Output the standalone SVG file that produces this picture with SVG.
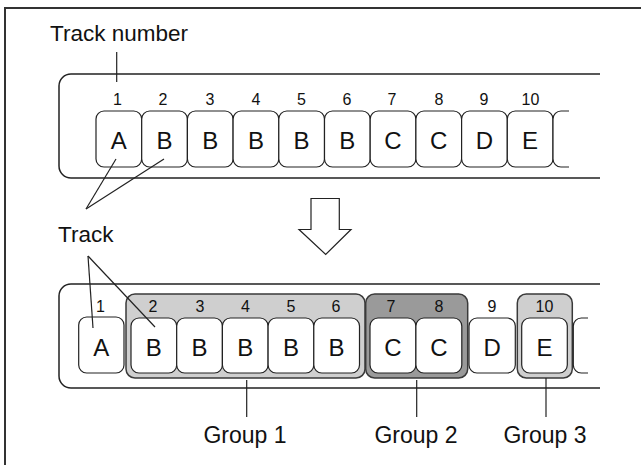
<svg xmlns="http://www.w3.org/2000/svg" width="641" height="465" viewBox="0 0 641 465">
<style>
text{font-family:"Liberation Sans",Arial,sans-serif;fill:#111}
.lbl{font-size:22.5px}
.let{font-size:24px;text-anchor:middle}
.tile{fill:#fff;stroke:#222;stroke-width:1.2}
.panel{fill:none;stroke:#222;stroke-width:1.5}
.ln{fill:none;stroke:#222;stroke-width:1.2}
.g1{fill:#cfcfcf;stroke:#3a3a3a;stroke-width:1.5}
.g2{fill:#9a9a9a;stroke:#3a3a3a;stroke-width:1.5}
</style>
<rect x="0" y="0" width="641" height="465" fill="#fff"/>
<path d="M5,466 V8 H642" fill="none" stroke="#333" stroke-width="2"/>

<g id="labels">
<text class="lbl" x="50" y="41">Track number</text>
<text class="lbl" x="58" y="241.5">Track</text>
</g>

<g id="top-panel">
<path class="panel" d="M600,74 H71 A12,12 0 0 0 59,86 V166 A12,12 0 0 0 71,178 H600"/>
<g id="top-tiles">
<rect class="tile" x="96" y="111" width="45.7" height="56" rx="8"/>
<rect class="tile" x="141.7" y="111" width="45.7" height="56" rx="8"/>
<rect class="tile" x="187.4" y="111" width="45.7" height="56" rx="8"/>
<rect class="tile" x="233.1" y="111" width="45.7" height="56" rx="8"/>
<rect class="tile" x="278.8" y="111" width="45.7" height="56" rx="8"/>
<rect class="tile" x="324.5" y="111" width="45.7" height="56" rx="8"/>
<rect class="tile" x="370.2" y="111" width="45.7" height="56" rx="8"/>
<rect class="tile" x="415.9" y="111" width="45.7" height="56" rx="8"/>
<rect class="tile" x="461.6" y="111" width="45.7" height="56" rx="8"/>
<rect class="tile" x="507.3" y="111" width="45.7" height="56" rx="8"/>
<path class="tile" d="M569,111 H561 A8,8 0 0 0 553,119 V159 A8,8 0 0 0 561,167 H569"/>
</g>
<g id="top-numbers" font-size="16" text-anchor="middle">
<text x="117.5" y="105" font-size="16">1</text>
<text x="163" y="105" font-size="16">2</text>
<text x="210" y="105" font-size="16">3</text>
<text x="256" y="105" font-size="16">4</text>
<text x="301.5" y="105" font-size="16">5</text>
<text x="347" y="105" font-size="16">6</text>
<text x="392" y="105" font-size="16">7</text>
<text x="439" y="105" font-size="16">8</text>
<text x="484" y="105" font-size="16">9</text>
<text x="530.5" y="105" font-size="16">10</text>
</g>
<g id="top-letters">
<text class="let" x="118.8" y="149">A</text>
<text class="let" x="164.5" y="149">B</text>
<text class="let" x="210.2" y="149">B</text>
<text class="let" x="255.9" y="149">B</text>
<text class="let" x="301.6" y="149">B</text>
<text class="let" x="347.3" y="149">B</text>
<text class="let" x="393" y="149">C</text>
<text class="let" x="438.7" y="149">C</text>
<text class="let" x="484.4" y="149">D</text>
<text class="let" x="530.1" y="149">E</text>
</g>
</g>

<g id="arrow">
<path d="M311,198.5 H339.3 V229.5 H351 L325.7,254.5 L299,229.5 H311 Z" fill="#fff" stroke="#222" stroke-width="1.2" stroke-linejoin="miter"/>
</g>

<g id="bottom-panel">
<path class="panel" d="M600,284 H71 A12,12 0 0 0 59,296 V376 A12,12 0 0 0 71,388 H600"/>
<g id="group1"><rect class="g1" x="126" y="294" width="239" height="84" rx="9"/></g>
<g id="group2"><rect class="g2" x="365.7" y="294" width="102" height="84" rx="9"/></g>
<g id="group3"><rect class="g1" x="517.3" y="294" width="55" height="84" rx="9"/></g>
<g id="bottom-tiles">
<rect class="tile" x="78.7" y="317" width="45.3" height="56" rx="8"/>
<rect class="tile" x="131" y="318" width="45.7" height="55" rx="8"/>
<rect class="tile" x="176.7" y="318" width="45.7" height="55" rx="8"/>
<rect class="tile" x="222.4" y="318" width="45.7" height="55" rx="8"/>
<rect class="tile" x="268.1" y="318" width="45.7" height="55" rx="8"/>
<rect class="tile" x="313.8" y="318" width="45.7" height="55" rx="8"/>
<rect class="tile" x="370" y="318" width="45.9" height="55" rx="8"/>
<rect class="tile" x="415.9" y="318" width="45.9" height="55" rx="8"/>
<rect class="tile" x="469" y="318" width="46.3" height="55" rx="8"/>
<rect class="tile" x="521.7" y="318" width="45.6" height="55" rx="8"/>
<path class="tile" d="M588,318 H581.3 A8,8 0 0 0 573.3,326 V365 A8,8 0 0 0 581.3,373 H588"/>
</g>
<g id="bottom-numbers" font-size="16" text-anchor="middle">
<text x="100.5" y="311.5" font-size="16">1</text>
<text x="153" y="311.5" font-size="16">2</text>
<text x="200" y="311.5" font-size="16">3</text>
<text x="245.5" y="311.5" font-size="16">4</text>
<text x="291" y="311.5" font-size="16">5</text>
<text x="336" y="311.5" font-size="16">6</text>
<text x="391" y="311.5" font-size="16">7</text>
<text x="439" y="311.5" font-size="16">8</text>
<text x="492" y="311.5" font-size="16">9</text>
<text x="544.5" y="311.5" font-size="16">10</text>
</g>
<g id="bottom-letters">
<text class="let" x="101.3" y="355.5">A</text>
<text class="let" x="153.8" y="355.5">B</text>
<text class="let" x="199.5" y="355.5">B</text>
<text class="let" x="245.2" y="355.5">B</text>
<text class="let" x="290.9" y="355.5">B</text>
<text class="let" x="336.6" y="355.5">B</text>
<text class="let" x="393" y="355.5">C</text>
<text class="let" x="438.8" y="355.5">C</text>
<text class="let" x="492.2" y="355.5">D</text>
<text class="let" x="544.5" y="355.5">E</text>
</g>
</g>

<g id="connectors">
<line class="ln" x1="116.7" y1="52" x2="116.7" y2="82"/>
<line class="ln" x1="86" y1="209" x2="116" y2="159"/>
<line class="ln" x1="86" y1="209" x2="164" y2="159"/>
<line class="ln" x1="88" y1="256" x2="93" y2="328"/>
<line class="ln" x1="88" y1="256" x2="155" y2="327"/>
<line class="ln" x1="246.7" y1="380" x2="246.7" y2="417"/>
<line class="ln" x1="416.7" y1="380" x2="416.7" y2="417"/>
<line class="ln" x1="546" y1="378" x2="546" y2="417"/>
</g>

<g id="group-labels">
<text class="lbl" x="245" y="443" text-anchor="middle" style="font-size:23px">Group 1</text>
<text class="lbl" x="416" y="443" text-anchor="middle" style="font-size:23px">Group 2</text>
<text class="lbl" x="545" y="443" text-anchor="middle" style="font-size:23px">Group 3</text>
</g>
</svg>
